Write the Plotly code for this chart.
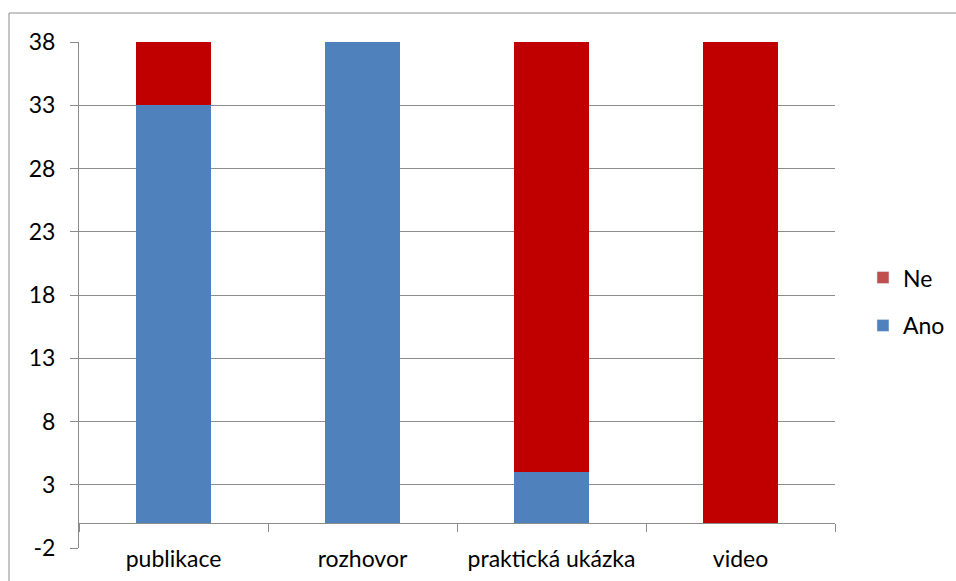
import plotly.graph_objects as go

categories = ["publikace", "rozhovor", "praktická ukázka", "video"]
ano = [33, 38, 4, 0]
ne = [5, 0, 34, 38]
y_ticks = [-2, 3, 8, 13, 18, 23, 28, 33, 38]
y_tick_text = ["-2", "3", "8", "13", "18", "23", "28", "33", "38"]

FONT = "Lato"
FS = 23
GRID = "#8c8c8c"

fig = go.Figure()
fig.add_trace(go.Bar(x=categories, y=ano, name="Ano", marker=dict(color="#4F81BD", line=dict(width=0)),
                     width=0.4, showlegend=False))
fig.add_trace(go.Bar(x=categories, y=ne, name="Ne", marker=dict(color="#C00000", line=dict(width=0)),
                     width=0.4, showlegend=False))
# legend entries (legend swatch colours differ slightly from bars in the reference)
fig.add_trace(go.Bar(x=[None], y=[None], name="Ne", marker=dict(color="#C0504D"),
                     legendgroup="b", legendrank=1, hoverinfo="skip"))
fig.add_trace(go.Bar(x=[None], y=[None], name="Ano", marker=dict(color="#4F81BD"),
                     legendgroup="a", legendrank=2, hoverinfo="skip"))
# dummy trace to carry the axis drawn at y = 0
fig.add_trace(go.Scatter(x=categories, y=[0]*len(categories), xaxis="x2", mode="none",
                         showlegend=False, hoverinfo="skip"))

fig.update_layout(
    width=956, height=581,
    margin=dict(l=79, r=121, t=42, b=33, autoexpand=False),
    barmode="stack",
    plot_bgcolor="white", paper_bgcolor="white",
    font=dict(family=FONT, size=FS, color="black"),
    showlegend=True,
    legend=dict(x=1.037, y=0.487, xanchor="left", yanchor="middle",
                traceorder="grouped", tracegroupgap=15,
                font=dict(size=FS), itemwidth=30),
    xaxis=dict(showline=False, showgrid=False, ticks="", ticklabelstandoff=-5,
               range=[-0.5, 3.5], tickfont=dict(size=FS), automargin=False),
    xaxis2=dict(overlaying="x", anchor="free", position=0.05, showline=True,
                linecolor=GRID, linewidth=1, ticks="outside", tickson="boundaries",
                ticklen=8, tickcolor=GRID, showticklabels=False, showgrid=False,
                range=[-0.5, 3.5], automargin=False),
    yaxis=dict(range=[-2, 38], tickvals=y_ticks, ticktext=y_tick_text, showgrid=True, gridcolor=GRID,
               gridwidth=1, zeroline=False, showline=True, linecolor=GRID,
               ticks="outside", ticklen=8, tickcolor=GRID, ticklabelstandoff=10,
               tickfont=dict(size=FS), automargin=False),
    shapes=[dict(type="rect", xref="paper", yref="paper",
                 x0=(9 - 79) / 756, x1=1.5, y0=-0.2, y1=(548 - 13) / 506,
                 line=dict(color=GRID, width=1), fillcolor="rgba(0,0,0,0)", layer="below")],
)

fig.write_html("out.html")
